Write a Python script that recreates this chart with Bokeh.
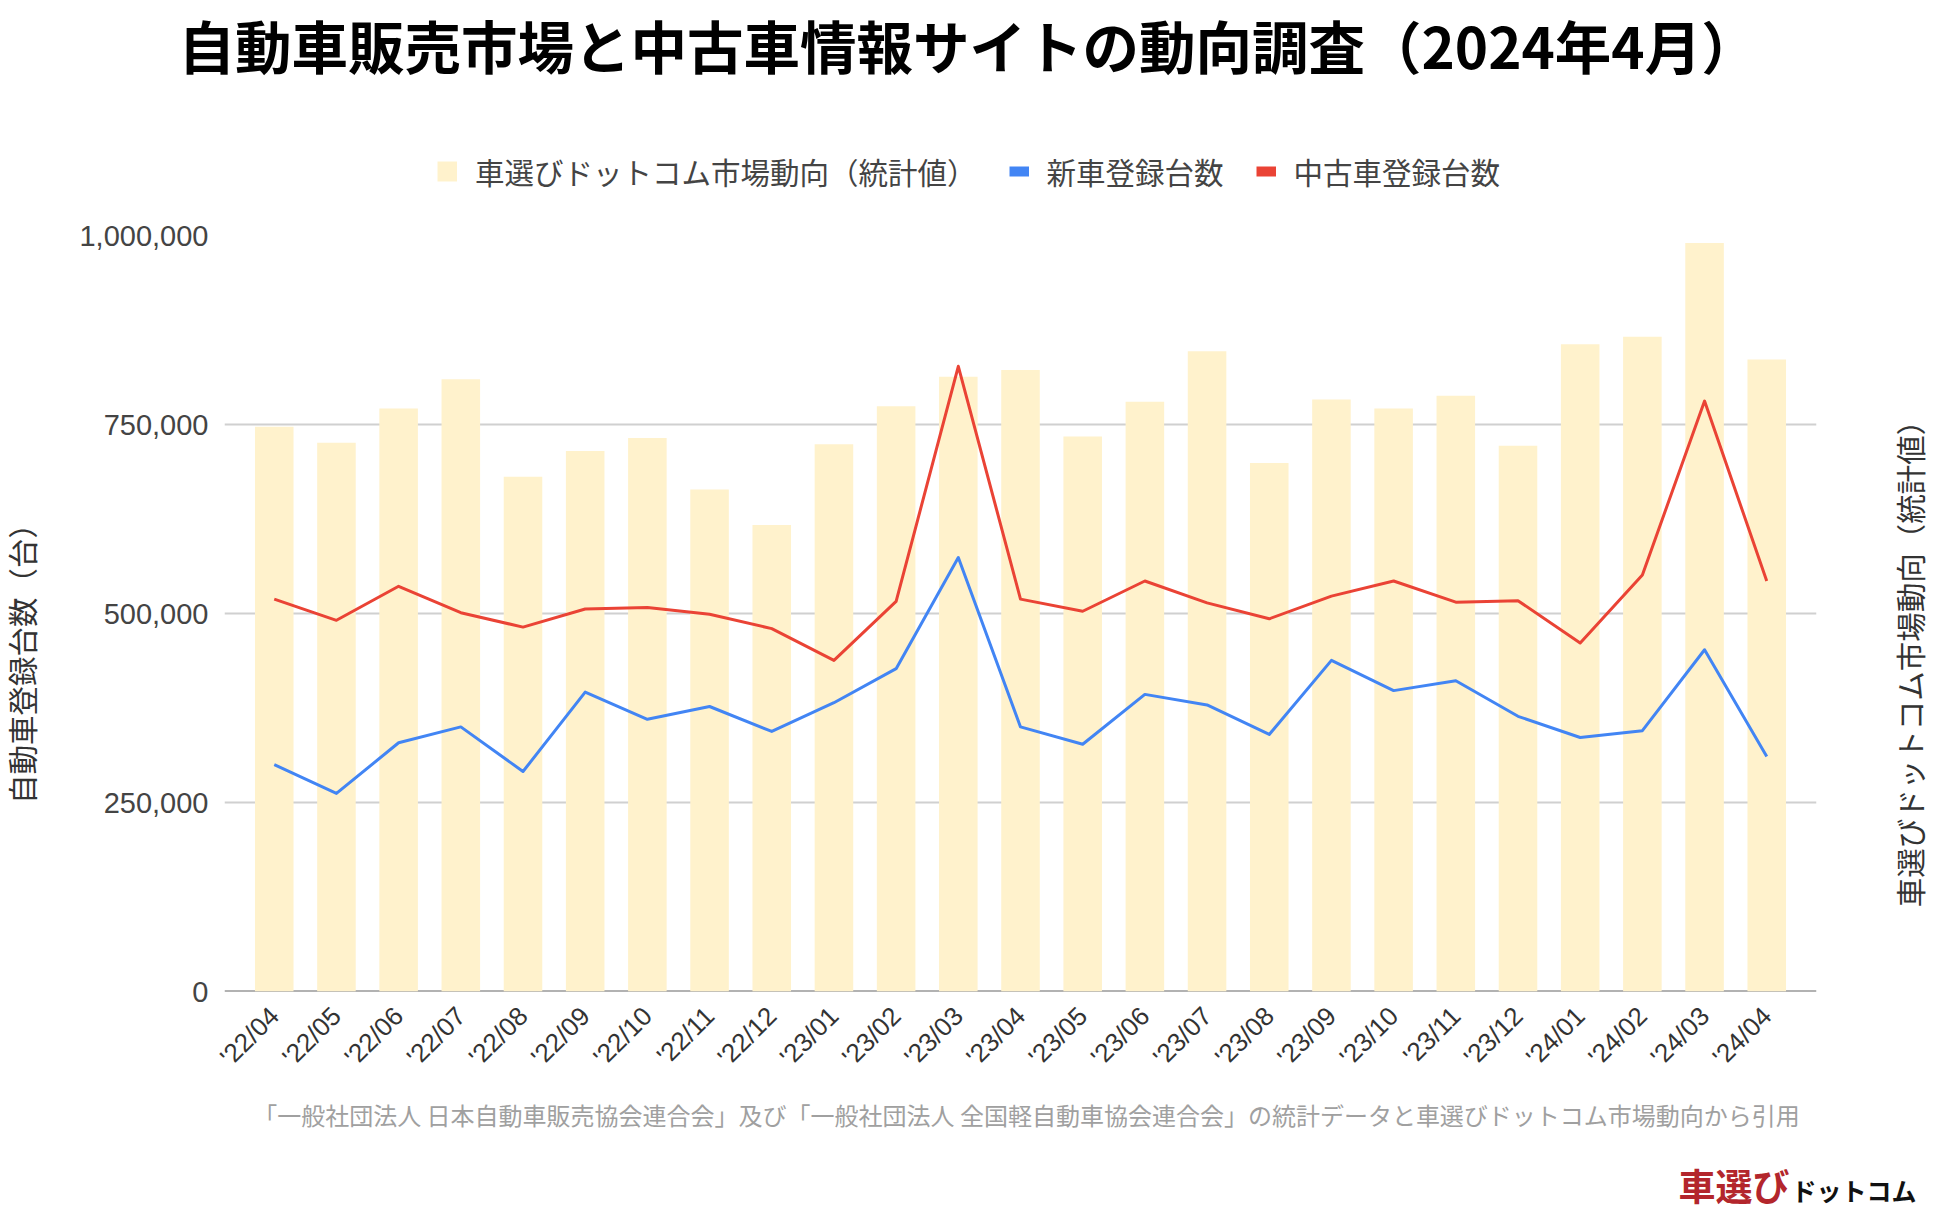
import math
from bokeh.plotting import figure
from bokeh.layouts import column, row
from bokeh.models import (FactorRange, Range1d, FixedTicker, NumeralTickFormatter,
                          Legend, LegendItem, Label, Span, ColumnDataSource)
from bokeh.embed import file_html
from bokeh.resources import INLINE

# ---------------- data ----------------
months = ["'22/04", "'22/05", "'22/06", "'22/07", "'22/08", "'22/09", "'22/10", "'22/11", "'22/12",
          "'23/01", "'23/02", "'23/03", "'23/04", "'23/05", "'23/06", "'23/07", "'23/08", "'23/09",
          "'23/10", "'23/11", "'23/12", "'24/01", "'24/02", "'24/03", "'24/04"]

market_index = [747000, 726000, 771000, 810000, 681000, 715000, 732000, 664000, 617000,
                724000, 774000, 813000, 822000, 734000, 780000, 847000, 699000, 783000,
                771000, 788000, 722000, 856000, 866000, 990000, 836000]

new_cars = [300000, 262000, 329000, 350000, 291000, 396000, 360000, 377000, 344000,
            382000, 427000, 574000, 350000, 327000, 393000, 379000, 340000, 438000,
            398000, 411000, 364000, 336000, 345000, 452000, 311000]

used_cars = [519000, 491000, 536000, 501000, 482000, 506000, 508000, 499000, 480000,
             438000, 516000, 827000, 519000, 503000, 543000, 514000, 493000, 523000,
             543000, 515000, 517000, 461000, 551000, 781000, 543000]

y_ticks = [0, 250000, 500000, 750000, 1000000]

title_text = "自動車販売市場と中古車情報サイトの動向調査（2024年4月）"
legend_labels = ["車選びドットコム市場動向（統計値）", "新車登録台数", "中古車登録台数"]
left_title = "自動車登録台数（台）"
right_title = "車選びドットコム市場動向（統計値）"
source_note = ("「一般社団法人 日本自動車販売協会連合会」及び「一般社団法人 全国軽自動車協会連合会」"
               "の統計データと車選びドットコム市場動向から引用")
logo_red = "車選び"
logo_black = "ドットコム"

# ---------------- style / layout ----------------
JP = "Noto Sans CJK JP"
LAT = "Liberation Sans"
BAR_COLOR = "#FFF2CC"
BLUE = "#4285F4"
RED = "#EA4335"

TOTAL_W = 1934
HEADER_H = 200
LEFT_W, RIGHT_W = 60, 78
MAIN_W = TOTAL_W - LEFT_W - RIGHT_W          # 1796
MB_L, MB_R, MB_T, MB_B = 164, 40, 35, 100      # main borders -> frame 1592 x 756
FRAME_H = 756
MAIN_H = MB_T + FRAME_H + MB_B                 # 891
FOOTER_H = 1212 - HEADER_H - MAIN_H            # 121


def blank(width, height, x_range=None, y_range=None):
    f = figure(width=width, height=height,
               x_range=x_range if x_range is not None else Range1d(0, 1),
               y_range=y_range if y_range is not None else Range1d(0, 1),
               x_axis_type=None, y_axis_type=None, title_location=None,
               output_backend="svg", toolbar_location=None, min_border=0)
    f.outline_line_color = None
    f.grid.visible = False
    f.background_fill_color = "white"
    f.border_fill_color = "white"
    return f


def label(f, text, x, y_bottom, size, color, align="center", angle=0.0, bold=False, font=JP):
    f.add_layout(Label(x=x, y=y_bottom, x_units="screen", y_units="screen",
                       text=text, text_font=font, text_font_size=size, text_color=color,
                       text_align=align, text_baseline="middle", angle=angle,
                       text_font_style="bold" if bold else "normal"))


src = ColumnDataSource(dict(month=months, market=market_index, new=new_cars, used=used_cars))

# ---------------- header: title + legend ----------------
# The header's y-range lies above all values, so its series only feed the legend swatches.
header = blank(TOTAL_W, HEADER_H, x_range=FactorRange(*months), y_range=Range1d(2000000, 3000000))
label(header, title_text, 178, HEADER_H - 43, "56.5px", "#000000", align="left", bold=True)

sw_bar = header.line(x="month", y="market", source=src, line_color=BAR_COLOR, line_width=20)
sw_new = header.line(x="month", y="new", source=src, line_color=BLUE, line_width=10)
sw_used = header.line(x="month", y="used", source=src, line_color=RED, line_width=10)
legend = Legend(items=[LegendItem(label=legend_labels[0], renderers=[sw_bar]),
                       LegendItem(label=legend_labels[1], renderers=[sw_new]),
                       LegendItem(label=legend_labels[2], renderers=[sw_used])],
                orientation="horizontal", location=(437, HEADER_H - 149 - 44),
                glyph_width=20, glyph_height=44, label_standoff=18, spacing=32,
                padding=0, margin=0, border_line_color=None, background_fill_alpha=0,
                label_text_font=JP, label_text_font_size="29.5px", label_text_color="#444444")
header.add_layout(legend, "center")

# ---------------- main chart ----------------
p = figure(width=MAIN_W, height=MAIN_H,
           x_range=FactorRange(*months, range_padding=0.30, range_padding_units="absolute"),
           y_range=Range1d(0, 1000000), title_location=None,
           output_backend="svg", toolbar_location=None,
           min_border_left=MB_L, min_border_right=MB_R,
           min_border_top=MB_T, min_border_bottom=MB_B)
p.outline_line_color = None
p.background_fill_color = "white"
p.border_fill_color = "white"
p.extra_y_ranges = {"market": Range1d(0, 1000000)}

p.xgrid.grid_line_color = None
p.ygrid.ticker = FixedTicker(ticks=y_ticks)
p.ygrid.grid_line_color = "#d0d0d0"
p.ygrid.grid_line_width = 2

p.add_layout(Span(location=0, dimension="width", line_color="#666666", line_width=2, level="underlay"))

p.vbar(x="month", top="market", width=0.62, source=src, y_range_name="market",
       fill_color=BAR_COLOR, line_color=None)
p.line(x="month", y="new", source=src, line_color=BLUE, line_width=3, line_join="round")
p.line(x="month", y="used", source=src, line_color=RED, line_width=3, line_join="round")

yax = p.yaxis[0]
yax.ticker = FixedTicker(ticks=y_ticks)
yax.formatter = NumeralTickFormatter(format="0,0")
yax.axis_line_color = None
yax.major_tick_line_color = None
yax.minor_tick_line_color = None
yax.major_tick_out = 0
yax.major_tick_in = 0
yax.major_label_standoff = 16
yax.major_label_text_font = LAT
yax.major_label_text_font_size = "29px"
yax.major_label_text_color = "#444444"

xax = p.xaxis[0]
xax.axis_line_color = None
xax.major_tick_line_color = None
xax.minor_tick_line_color = None
xax.major_tick_out = 0
xax.major_tick_in = 0
xax.major_label_orientation = math.pi / 4
xax.major_label_standoff = 20
xax.major_label_text_font = LAT
xax.major_label_text_font_size = "26px"
xax.major_label_text_color = "#333333"

# ---------------- side axis titles (frames align with the main frame) ----------------
AXIS_TITLE_Y = FRAME_H - (656 - HEADER_H - MB_T)   # centre at canvas y 656

left = blank(LEFT_W, MAIN_H)
label(left, left_title, 20, AXIS_TITLE_Y, "29.5px", "#333333", angle=math.pi / 2)

right = blank(RIGHT_W, MAIN_H)
label(right, right_title, 52, AXIS_TITLE_Y, "29.5px", "#333333", angle=math.pi / 2)

# ---------------- footer: source + logo ----------------
footer = blank(TOTAL_W, FOOTER_H)
label(footer, source_note, 1026, FOOTER_H - 23, "24px", "#a0a0a0")
label(footer, logo_red, 1789, FOOTER_H - 93, "37px", "#b3262c", align="right", bold=True)
label(footer, logo_black, 1791, FOOTER_H - 98, "25px", "#111111", align="left", bold=True)

layout = column(header, row(left, p, right, spacing=0), footer, spacing=0)

open("out.html", "w").write(file_html(layout, INLINE))
